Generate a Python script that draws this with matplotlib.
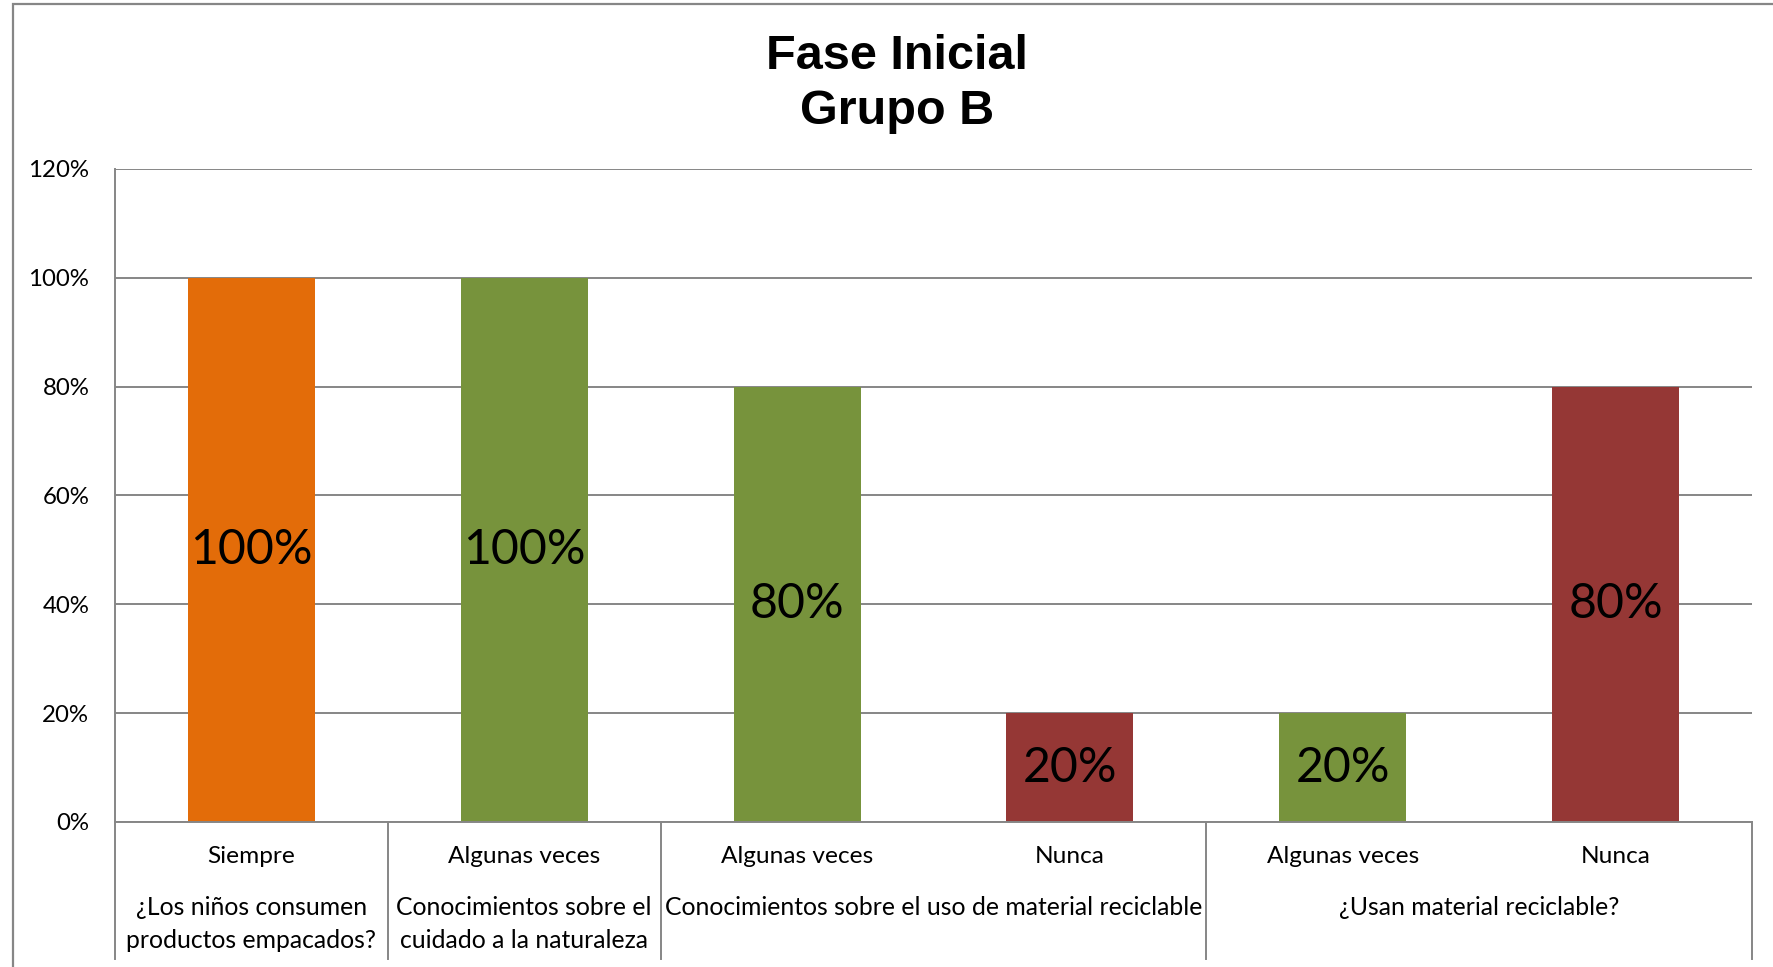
import matplotlib
matplotlib.use("Agg")
import matplotlib.pyplot as plt
from matplotlib.patches import Rectangle
from matplotlib.ticker import PercentFormatter

# data
answers = ["Siempre", "Algunas veces", "Algunas veces", "Nunca", "Algunas veces", "Nunca"]
values = [1.00, 1.00, 0.80, 0.20, 0.20, 0.80]
bar_colors = ["#E36C09", "#77933C", "#77933C", "#953735", "#77933C", "#953735"]
questions = [
    "¿Los niños consumen\nproductos empacados?",
    "Conocimientos sobre el\ncuidado a la naturaleza",
    "Conocimientos sobre el uso de material reciclable",
    "¿Usan material reciclable?",
]
question_span = [1, 1, 2, 2]  # how many answer bars each question covers

GRID = "#868686"
FONT = "Lato"

fig = plt.figure(figsize=(17.73, 9.67), dpi=100)
ax = fig.add_axes([115 / 1773, 1 - 822 / 967, (1752 - 115) / 1773, (822 - 169) / 967])

x = list(range(len(values)))
bars = ax.bar(x, values, width=0.465, color=bar_colors, zorder=2)
ax.bar_label(bars, labels=[f"{v:.0%}" for v in values], label_type="center",
             fontsize=34.7, fontfamily=FONT, color="black")

ax.set_xlim(-0.5, len(values) - 0.5)
ax.set_ylim(0, 1.2)
ax.set_yticks([0, 0.2, 0.4, 0.6, 0.8, 1.0, 1.2])
ax.yaxis.set_major_formatter(PercentFormatter(1, decimals=0))
ax.grid(axis="y", color=GRID, lw=1.4, zorder=0)
ax.tick_params(axis="y", length=0, pad=18.5, labelsize=17.3)
for lbl in ax.get_yticklabels():
    lbl.set_fontfamily(FONT)

ax.set_xticks(x)
ax.set_xticklabels(answers, fontsize=17.6, fontfamily=FONT)
ax.tick_params(axis="x", length=0, pad=17)

for side in ("top", "right"):
    ax.spines[side].set_visible(False)
for side in ("left", "bottom"):
    ax.spines[side].set_color(GRID)
    ax.spines[side].set_linewidth(1.4)

# category table below the axis: separators + question labels
trans = ax.get_xaxis_transform()
y_low = -(959 - 822) / 653
edges = [-0.5]
for span in question_span:
    edges.append(edges[-1] + span)
for e in edges:
    ax.plot([e, e], [0, y_low], transform=trans, color=GRID, lw=1.4, clip_on=False)

for i, q in enumerate(questions):
    center = (edges[i] + edges[i + 1]) / 2
    ax.text(center, -0.113, q, transform=trans, ha="center", va="top",
            fontsize=17.8, fontfamily=FONT, linespacing=1.55)

# title and outer chart border
fig.text(897 / 1773, 1 - 84 / 967, "Fase Inicial\nGrupo B", ha="center", va="center",
         fontsize=35, fontweight="bold", fontfamily="Liberation Sans", linespacing=1.3)
fig.patches.append(Rectangle((13 / 1773, -0.05), 1.0, 1 - 4 / 967 + 0.05,
                             transform=fig.transFigure, fill=False,
                             edgecolor=GRID, lw=1.6))

fig.savefig("out.png", dpi=100)
